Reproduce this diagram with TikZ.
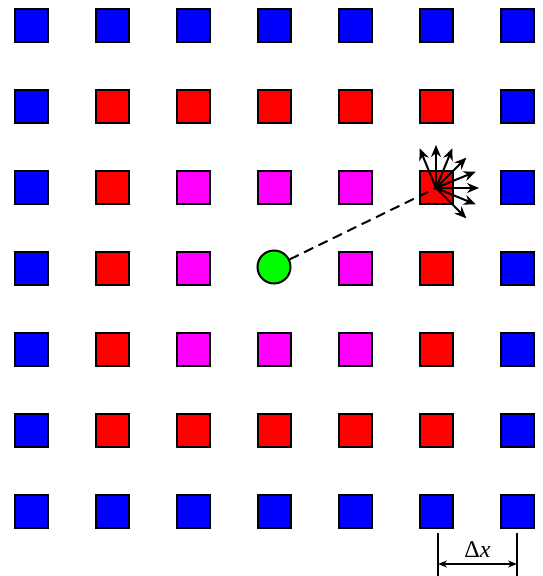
\documentclass[tikz,border=0pt]{standalone}
\usepackage{fontspec}
\setmainfont{Liberation Serif}
\usetikzlibrary{arrows.meta}
\definecolor{cblue}{RGB}{0,0,255}
\definecolor{cred}{RGB}{255,0,0}
\definecolor{cmag}{RGB}{255,0,255}
\definecolor{cgreen}{RGB}{0,255,0}
\begin{document}
\begin{tikzpicture}[x=1pt,y=-1pt,
  cell/.style={draw=black,line width=2pt,minimum size=33pt,inner sep=0pt,outer sep=0pt},
  ray/.style={line width=2pt,-{Stealth[length=12pt,width=10pt]}},
  dim/.style={line width=1.3pt}]
\useasboundingbox (0,0) rectangle (542,576);
\foreach \i in {0,...,6}{
  \foreach \j in {0,...,6}{
    \pgfmathtruncatemacro{\ri}{max(abs(\i-3),abs(\j-3))}
    \ifnum\ri=0\relax
    \else
      \ifnum\ri=3 \def\cc{cblue}\fi
      \ifnum\ri=2 \def\cc{cred}\fi
      \ifnum\ri=1 \def\cc{cmag}\fi
      \node[cell,fill=\cc] (c\i\j) at ({31.5+81*\i},{25.5+81*\j}) {};
    \fi
  }
}
\node[circle,draw=black,line width=2pt,fill=cgreen,minimum size=33pt,inner sep=0pt] (g) at (274,267) {};
\coordinate (s) at (436,188);
\draw[line width=2pt,dash pattern=on 10pt off 6pt] (g) -- (s);
\foreach \a in {-45,-22.5,0,22.5,45,67.5,90,112.5}{
  \draw[ray] (s) -- ++({43*cos(\a)},{-43*sin(\a)});
}
\coordinate (l1) at (438,533);
\coordinate (l2) at (517,533);
\draw[dim] (l1) -- ++(0,43);
\draw[dim] (l2) -- ++(0,43);
\draw[line width=2pt,{Stealth[length=9pt,width=7pt]}-{Stealth[length=9pt,width=7pt]}] ([yshift=-31pt]l1) -- ([yshift=-31pt]l2);
\node[font=\fontsize{24}{28}\selectfont] (dx) at (477.5,550) {Δ\textit{x}};
\end{tikzpicture}
\end{document}
